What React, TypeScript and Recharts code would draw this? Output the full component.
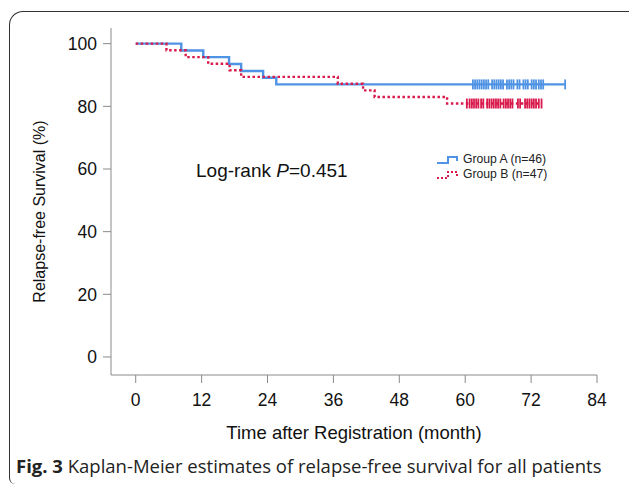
import React from "react";
import {
  ComposedChart,
  Line,
  Scatter,
  XAxis,
  YAxis,
} from "recharts";

// step points (month, survival %)
const groupASteps = [
  { t: 0, s: 100 },
  { t: 8.3, s: 97.8 },
  { t: 12.3, s: 95.7 },
  { t: 17.0, s: 93.5 },
  { t: 19.2, s: 91.3 },
  { t: 23.2, s: 89.1 },
  { t: 25.6, s: 87.0 },
  { t: 78.2, s: 87.0 },
];

const groupBSteps = [
  { t: 0, s: 100 },
  { t: 5.6, s: 97.9 },
  { t: 9.1, s: 95.7 },
  { t: 13.2, s: 93.6 },
  { t: 17.1, s: 91.5 },
  { t: 19.2, s: 89.4 },
  { t: 36.8, s: 87.2 },
  { t: 41.4, s: 85.1 },
  { t: 43.5, s: 83.0 },
  { t: 56.7, s: 80.9 },
  { t: 73.9, s: 80.9 },
];

// censored times
const groupACensored = [
  61.4, 61.8, 62.2, 62.6, 63.0, 63.4, 63.8, 64.2, 64.9, 65.3, 65.7, 66.1,
  66.5, 66.9, 67.6, 68.0, 68.4, 68.8, 69.5, 69.9, 70.6, 71.0, 71.4, 72.1,
  72.5, 72.9, 73.4, 73.8, 74.2, 78.2,
];
const groupBCensored = [
  60.3, 60.8, 61.2, 61.6, 62.0, 62.4, 62.9, 63.3, 64.0, 64.4, 64.8, 65.2,
  65.6, 66.0, 66.4, 67.0, 67.4, 67.8, 68.2, 68.6, 69.6, 70.0, 70.9, 71.3,
  71.7, 72.1, 72.5, 72.9, 73.4, 73.9,
];

const xTicks = [0, 12, 24, 36, 48, 60, 72, 84];
const yTicks = [0, 20, 40, 60, 80, 100];

const BLUE = "#4f93e4";
const RED = "#d81a4c";
const FONT = "'Liberation Sans', Arial, sans-serif";

const censorA = groupACensored.map((t) => ({ t, s: 87.0 }));
const censorB = groupBCensored.map((t) => ({ t, s: 80.9 }));

const tick = (color: string) => (props: any) => {
  const { cx, cy } = props;
  return (
    <line x1={cx} x2={cx} y1={cy - 5} y2={cy + 5} stroke={color} strokeWidth={1.8} />
  );
};

export default function App() {
  return (
    <div
      style={{
        position: "absolute",
        left: 0,
        top: 0,
        width: 629,
        height: 486,
        background: "#fff",
        overflow: "hidden",
      }}
    >
      <div
        style={{
          position: "absolute",
          left: 9,
          top: 11,
          width: 640,
          height: 473,
          borderTop: "1.5px solid #333",
          borderLeft: "1.5px solid #333",
          borderTopLeftRadius: 14,
          borderBottomLeftRadius: 6,
          boxSizing: "border-box",
        }}
      />
      <ComposedChart
        width={629}
        height={486}
        margin={{ top: 28, right: 32, left: 51, bottom: 81 }}
        style={{ position: "absolute", left: 0, top: 0 }}
      >
        <XAxis
          type="number"
          dataKey="t"
          domain={[-4.5, 84]}
          ticks={xTicks}
          height={30}
          tickSize={8}
          tickMargin={11}
          stroke="#8a8a8a"
          tick={{ fill: "#111", fontSize: 17.5, fontFamily: FONT }}
          label={{
            value: "Time after Registration (month)",
            position: "insideBottom",
            offset: -34,
            fill: "#111",
            fontSize: 18.5,
            fontFamily: FONT,
          }}
        />
        <YAxis
          type="number"
          dataKey="s"
          domain={[-5.75, 105]}
          ticks={yTicks}
          width={60}
          tickSize={8}
          tickMargin={6}
          stroke="#8a8a8a"
          tick={{ fill: "#111", fontSize: 17.5, fontFamily: FONT }}
          label={{
            value: "Relapse-free Survival (%)",
            angle: -90,
            position: "insideLeft",
            offset: -12,
            dy: 10,
            fill: "#111",
            fontSize: 16,
            fontFamily: FONT,
            style: { textAnchor: "middle" },
          }}
        />
        <Line
          data={groupASteps}
          dataKey="s"
          type="stepAfter"
          stroke={BLUE}
          strokeWidth={2.4}
          dot={false}
          isAnimationActive={false}
        />
        <Line
          data={groupBSteps}
          dataKey="s"
          type="stepAfter"
          stroke={RED}
          strokeWidth={2.4}
          strokeDasharray="2.5 2.5"
          dot={false}
          isAnimationActive={false}
        />
        <Scatter data={censorA} dataKey="s" shape={tick(BLUE)} isAnimationActive={false} />
        <Scatter data={censorB} dataKey="s" shape={tick(RED)} isAnimationActive={false} />
      </ComposedChart>

      <div
        style={{
          position: "absolute",
          left: 196,
          top: 160,
          fontFamily: FONT,
          fontSize: 19,
          color: "#111",
          whiteSpace: "nowrap",
        }}
      >
        Log-rank <i>P</i>=0.451
      </div>

      <div
        style={{
          position: "absolute",
          left: 437,
          top: 152,
          fontFamily: FONT,
          fontSize: 12.2,
          color: "#222",
          lineHeight: "15px",
        }}
      >
        <div style={{ display: "flex", alignItems: "center" }}>
          <svg width={22} height={12} style={{ marginRight: 4 }}>
            <path d="M0,9 H11 V3 H20 V7" fill="none" stroke={BLUE} strokeWidth={2} />
          </svg>
          Group A (n=46)
        </div>
        <div style={{ display: "flex", alignItems: "center" }}>
          <svg width={22} height={12} style={{ marginRight: 4 }}>
            <path
              d="M0,9 H11 V3 H20 V7"
              fill="none"
              stroke={RED}
              strokeWidth={2}
              strokeDasharray="2 2"
            />
          </svg>
          Group B (n=47)
        </div>
      </div>

      <div
        style={{
          position: "absolute",
          left: 16,
          top: 453,
          fontFamily: "'Open Sans', sans-serif",
          fontSize: 18.5,
          color: "#222",
          whiteSpace: "nowrap",
        }}
      >
        <b>Fig. 3</b> Kaplan-Meier estimates of relapse-free survival for all patients
      </div>
    </div>
  );
}
